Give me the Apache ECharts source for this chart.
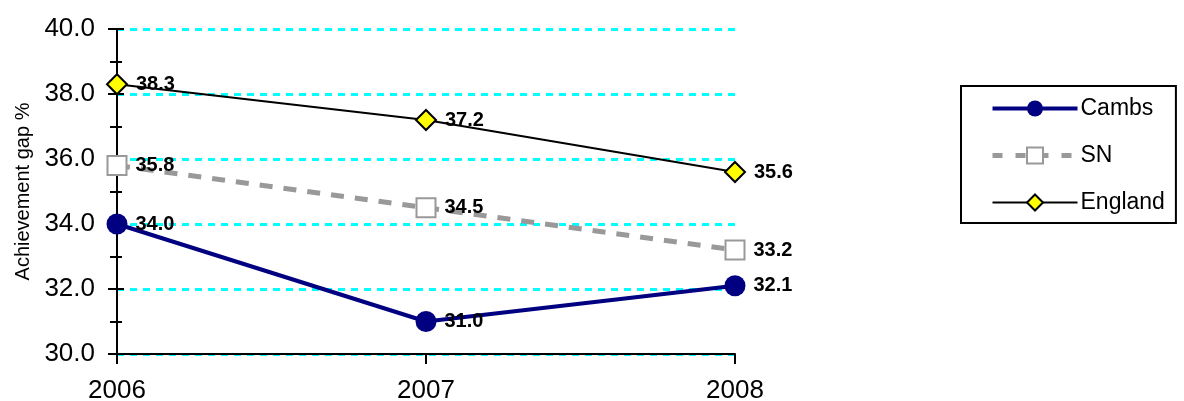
<!DOCTYPE html>
<html>
<head>
<meta charset="utf-8">
<script src="https://cdn.jsdelivr.net/npm/echarts@6/dist/echarts.min.js"></script>
<style>
  html, body { margin: 0; padding: 0; background: #fff; }
  #chart { width: 1184px; height: 401px; }
</style>
</head>
<body>
<div id="chart"></div>
<script>
// values
const years = ['2006', '2007', '2008'];
const cambs = [34.0, 31.0, 32.1];
const sn = [35.8, 34.5, 33.2];
const england = [38.3, 37.2, 35.6];

const FONT = '"Liberation Sans", Arial, sans-serif';

const chart = echarts.init(document.getElementById('chart'), null, { renderer: 'canvas' });

const dataLabel = {
  show: true,
  position: 'right',
  distance: 8,
  color: '#000',
  fontFamily: FONT,
  fontWeight: 'bold',
  fontSize: 20,
  formatter: (p) => p.value.toFixed(1),
};

chart.setOption({
  animation: false,
  grid: { left: 117, right: 449, top: 29, bottom: 47, outerBoundsMode: 'none' },
  legend: {
    orient: 'vertical',
    left: 961,
    top: 86,
    padding: [11, 11, 9, 29],
    itemGap: 24,
    itemWidth: 85,
    itemHeight: 20,
    borderColor: '#000',
    borderWidth: 2,
    textStyle: { fontFamily: FONT, fontSize: 23, color: '#000', padding: [0, 0, 0, -2] },
    data: [
      { name: 'Cambs', lineStyle: { width: 4 } },
      { name: 'SN', lineStyle: { width: 5, type: [10, 13] } },
      { name: 'England', lineStyle: { width: 2 } },
    ],
  },
  xAxis: {
    type: 'category',
    data: years,
    boundaryGap: false,
    axisLine: { lineStyle: { color: '#000', width: 2 } },
    axisTick: { show: true, length: 10, lineStyle: { color: '#000', width: 2 } },
    axisLabel: { color: '#000', fontFamily: FONT, fontSize: 26, margin: 24 },
    splitLine: { show: false },
  },
  yAxis: [
    {
      type: 'value',
      min: 30,
      max: 40,
      interval: 2,
      position: 'left',
      name: 'Achievement gap %',
      nameLocation: 'middle',
      nameGap: 83,
      nameTextStyle: { fontFamily: FONT, fontSize: 20, color: '#000' },
      axisLine: { show: true, lineStyle: { color: '#000', width: 2 } },
      axisTick: { show: true, length: 9, lineStyle: { color: '#000', width: 2 } },
      minorTick: { show: true, splitNumber: 2, length: 7, lineStyle: { color: '#000', width: 2 } },
      axisLabel: {
        color: '#000', fontFamily: FONT, fontSize: 26, margin: 22,
        formatter: (v) => v.toFixed(1),
      },
      splitLine: { show: true, lineStyle: { color: '#00ffff', width: 3, type: [7, 6] } },
    },
    {
      // inner half of the crossing ticks
      type: 'value',
      min: 30,
      max: 40,
      interval: 2,
      position: 'left',
      axisLine: { show: false },
      axisTick: { show: true, inside: true, length: 7, lineStyle: { color: '#000', width: 2 } },
      minorTick: { show: true, splitNumber: 2, length: 5, lineStyle: { color: '#000', width: 2 } },
      axisLabel: { show: false },
      splitLine: { show: false },
    },
  ],
  series: [
    {
      name: 'Cambs',
      type: 'line',
      data: cambs,
      symbol: 'circle',
      symbolSize: 21,
      lineStyle: { color: '#000080', width: 4 },
      itemStyle: { color: '#000080' },
      label: dataLabel,
      z: 3,
    },
    {
      name: 'SN',
      type: 'line',
      data: sn,
      symbol: 'rect',
      symbolSize: 19,
      lineStyle: { color: '#999999', width: 5, type: [13, 11] },
      itemStyle: { color: '#ffffff', borderColor: '#999999', borderWidth: 2 },
      label: dataLabel,
      z: 2,
    },
    {
      name: 'England',
      type: 'line',
      data: england,
      symbol: 'diamond',
      symbolSize: 20,
      lineStyle: { color: '#000', width: 2 },
      itemStyle: { color: '#ffff00', borderColor: '#000', borderWidth: 2 },
      label: dataLabel,
      z: 4,
    },
  ],
});
</script>
</body>
</html>
